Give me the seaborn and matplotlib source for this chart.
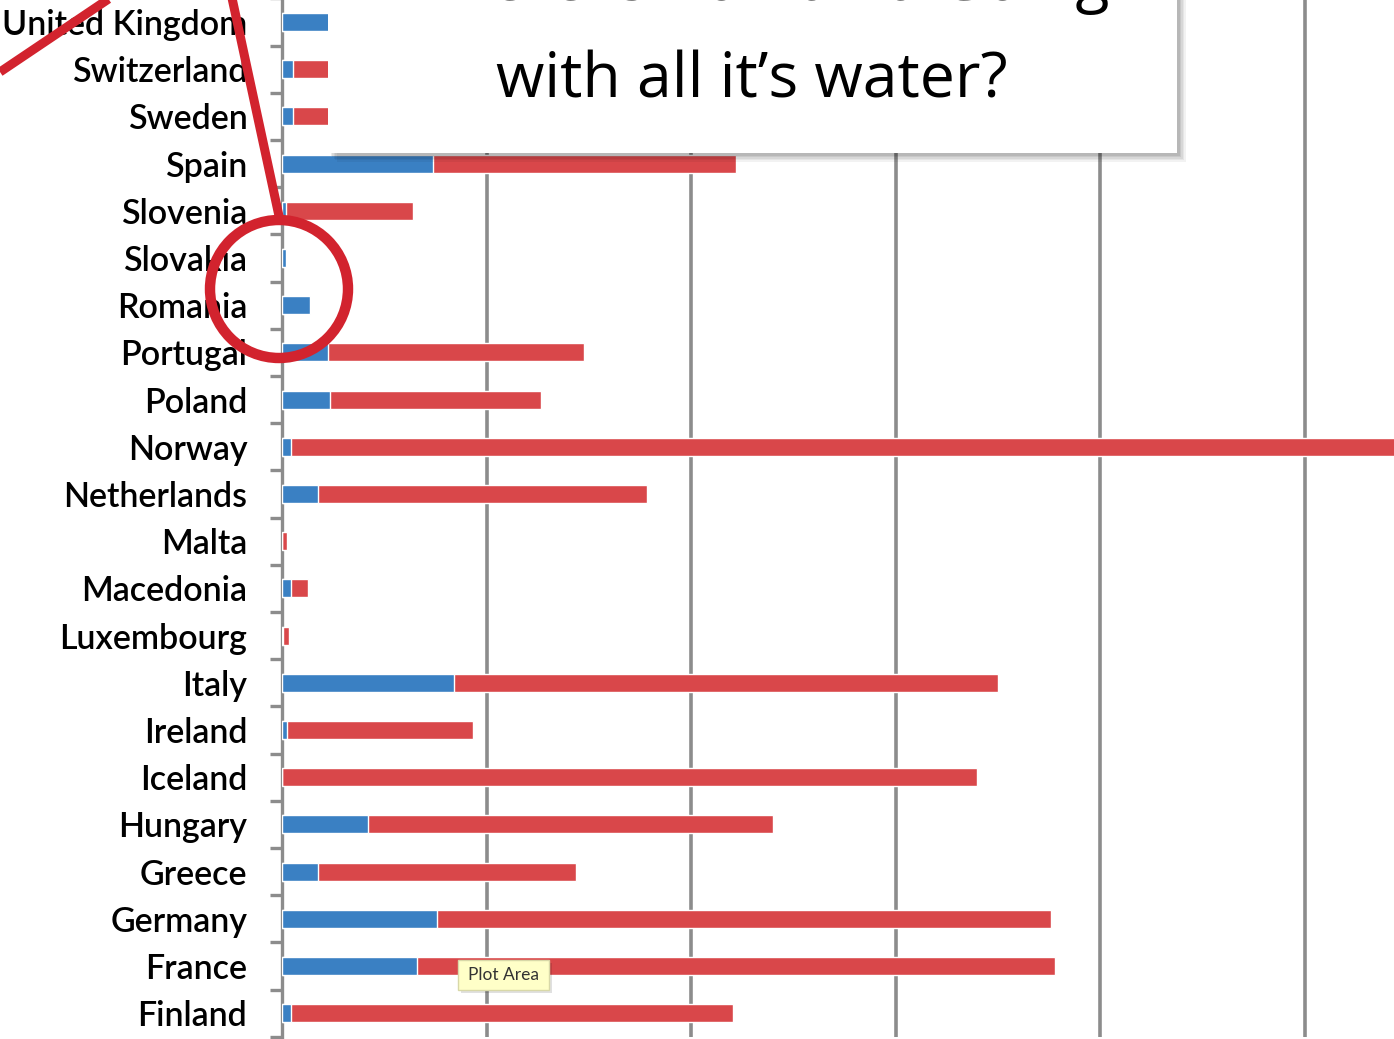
"""
Stacked horizontal bars: water resources by country, with slide overlay.
"""

import matplotlib
matplotlib.use("Agg")
import matplotlib.pyplot as plt
import matplotlib.patches as mpatches
import pandas as pd
import seaborn as sns
import numpy as np

# data, top row first
countries = ["United Kingdom", "Switzerland", "Sweden", "Spain", "Slovenia",
             "Slovakia", "Romania", "Portugal", "Poland", "Norway",
             "Netherlands", "Malta", "Macedonia", "Luxembourg", "Italy",
             "Ireland", "Iceland", "Hungary", "Greece", "Germany", "France",
             "Finland"]
blue_part = [2.3, 0.55, 0.55, 7.4, 0.2, 0.2, 1.37, 2.25, 2.35, 0.45,
             1.76, 0.0, 0.45, 0.05, 8.4, 0.25, 0.0, 4.2, 1.76, 7.6, 6.6, 0.45]
red_part = [10.0, 15.0, 20.0, 14.8, 6.2, 0.0, 0.0, 12.5, 10.3, 62.0,
            16.1, 0.25, 0.83, 0.3, 26.6, 9.1, 34.0, 19.8, 12.6, 30.0, 31.2, 21.6]

BLUE = "#3a80c3"
RED = "#d9474a"
GRAY = "#8c8c8c"
MARK = "#d2232e"

W, H = 1394, 1039
sns.set_theme(style="white")
plt.rcParams["font.family"] = ["Lato", "DejaVu Sans"]

df = pd.DataFrame({"country": countries, "blue": blue_part, "red": red_part})
df["total"] = df["blue"] + df["red"]

fig = plt.figure(figsize=(W / 100, H / 100), dpi=100)

# axes placed in pixels: left edge x=282, 20.45 px per unit, rows every 47.2 px
px_unit = 20.45
xmax = 60
row = 47.2
y_top = 22 - row / 2
y_bot = y_top + row * len(countries)
ax = fig.add_axes([282 / W, (H - y_bot) / H, xmax * px_unit / W, (y_bot - y_top) / H])
ax.patch.set_alpha(0)

sns.barplot(data=df, x="total", y="country", order=countries, color=RED,
            orient="h", width=0.38, saturation=1, ax=ax, zorder=3)
sns.barplot(data=df, x="blue", y="country", order=countries, color=BLUE,
            orient="h", width=0.38, saturation=1, ax=ax, zorder=4)

ax.set_xlim(0, xmax)
ax.set_ylim(len(countries) - 0.5, -0.5)
ax.set_xlabel("")
ax.set_ylabel("")
ax.set_xticks(np.arange(10, xmax + 1, 10))
ax.set_xticklabels([])
ax.tick_params(axis="x", length=0)
ax.xaxis.grid(True, color=GRAY, lw=2.6, zorder=1)
ax.set_axisbelow(True)

ax.tick_params(axis="y", which="major", length=0, pad=25, labelsize=24.5,
               labelcolor="black")
for lab in ax.get_yticklabels():
    lab.set_fontweight("semibold")
ax.set_yticks(np.arange(-0.5, len(countries), 1), minor=True)
ax.tick_params(axis="y", which="minor", length=9, width=2.4, color=GRAY, left=True)
for s in ["top", "right", "bottom"]:
    ax.spines[s].set_visible(False)
ax.spines["left"].set_color(GRAY)
ax.spines["left"].set_linewidth(2.4)

# overlay in pixel coordinates
ov = fig.add_axes([0, 0, 1, 1], zorder=10)
ov.set_xlim(0, W)
ov.set_ylim(H, 0)
ov.axis("off")
ov.patch.set_alpha(0)

# title box with soft shadow
for i, a in enumerate([0.05, 0.05, 0.06, 0.07, 0.08]):
    off = 9 - i * 1.6
    ov.add_patch(mpatches.Rectangle((328 + off, -20 + off), 849, 173,
                                    facecolor="black", alpha=a, lw=0))
ov.add_patch(mpatches.Rectangle((328, -20), 849, 173, facecolor="white", lw=0))
ov.text(752, 0, "Where is Romania Going", ha="center", va="baseline",
        fontsize=45, color="black", family=["Open Sans", "DejaVu Sans"])
ov.text(752, 97, "with all it\u2019s water?", ha="center", va="baseline",
        fontsize=45, color="black", family=["Open Sans", "DejaVu Sans"])

# red marks
ov.plot([0, 110], [72, -2], color=MARK, lw=6.5, solid_capstyle="butt")
ov.plot([232, 279], [-2, 216], color=MARK, lw=6.5, solid_capstyle="butt")
ov.add_patch(mpatches.Circle((279, 289), 69, fill=False, edgecolor=MARK, lw=7.5))

# tooltip
ov.add_patch(mpatches.Rectangle((461, 963), 91, 30, facecolor="black", alpha=0.12, lw=0))
ov.add_patch(mpatches.Rectangle((458, 960), 91, 30, facecolor="#ffffc8",
                                edgecolor="#d8d8a8", lw=1))
ov.text(503.5, 975, "Plot Area", ha="center", va="center", fontsize=12.5,
        color="#333333")

fig.savefig("out.png", dpi=100)
